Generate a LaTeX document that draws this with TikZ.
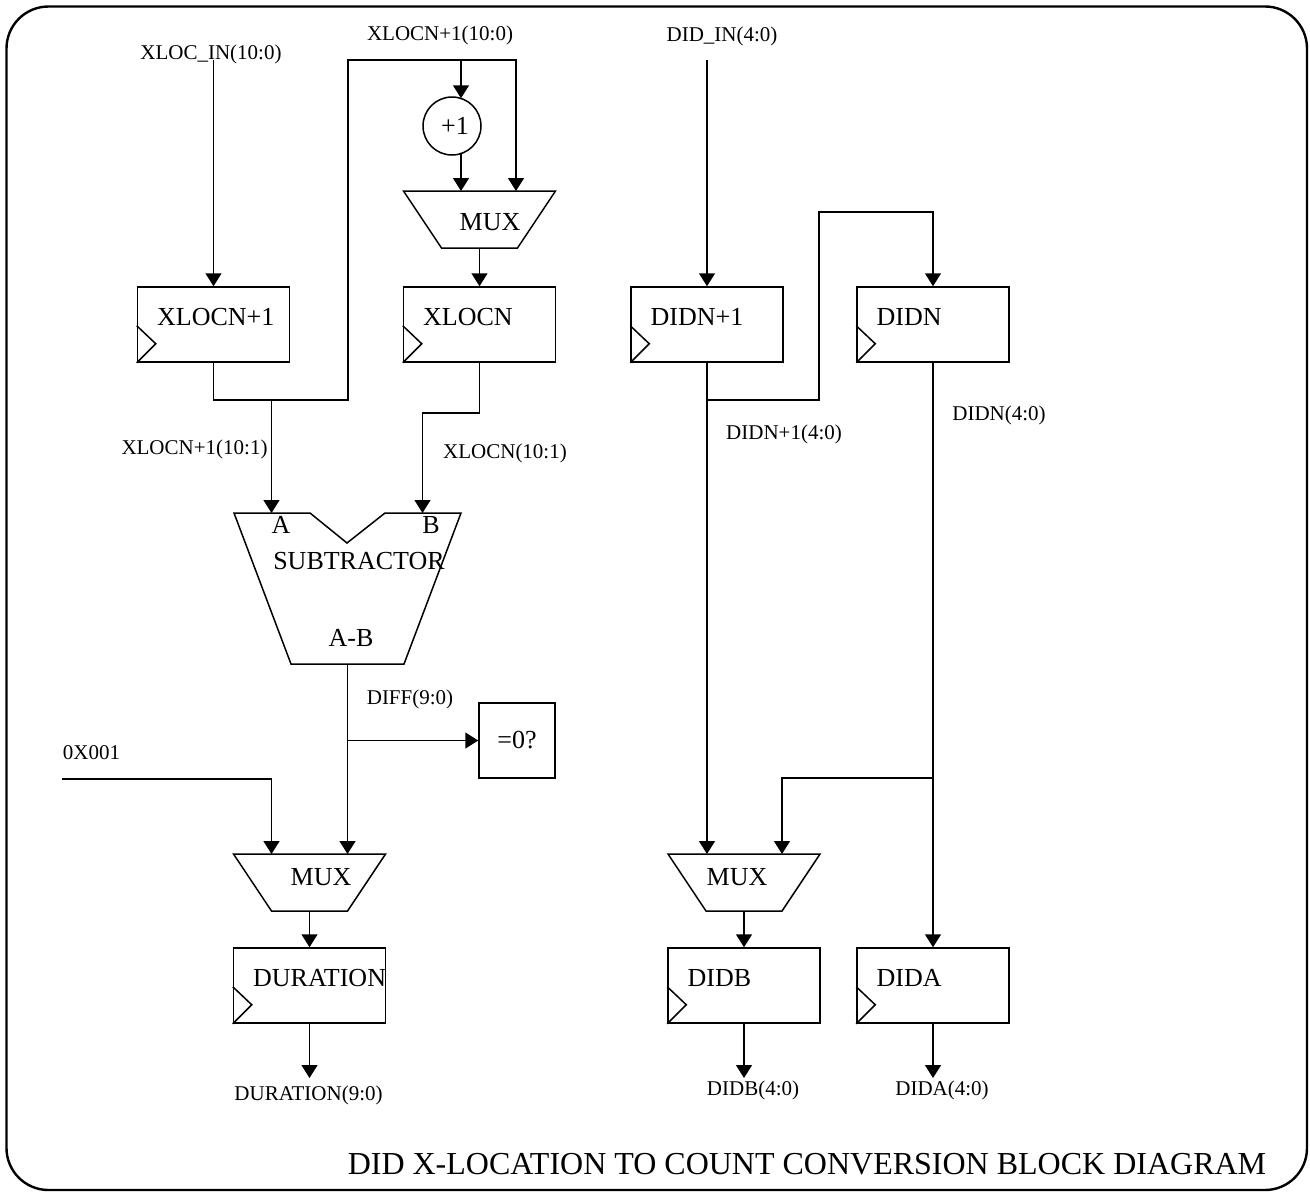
\documentclass[tikz,border=0pt]{standalone}
\usepackage{fontspec}
\setmainfont{Liberation Serif}
\usetikzlibrary{arrows.meta}

\tikzset{
	wire/.style={line width=0.75pt},
	sig/.style={wire, -{Triangle[length=6.5pt, width=8pt]}},
	regbox/.style={draw, wire, minimum width=76pt, minimum height=37.5pt, inner sep=0pt},
	big/.style={font=\fontsize{13}{15}\selectfont, inner sep=0pt},
	lab/.style={font=\fontsize{10.5}{12}\selectfont, inner sep=0pt, anchor=base},
}

% register with clock input: name, centre, text
\newcommand\flop[3]{%
	\node[regbox] (#1) at (#2) {};
	\node[big, anchor=base west] at ([shift={(20,39)}]#1.north west) {#3};
	\draw[wire] ([shift={(0,-37)}]#1.south west) -- ++(19,18) -- (#1.south west);
}

% multiplexer: name, top centre, text centre
\newcommand\muxer[3]{%
	\coordinate (#1) at (#2);
	\coordinate (#1-a) at ([shift={(-38,0)}]#1);
	\coordinate (#1-b) at ([shift={(38,0)}]#1);
	\coordinate (#1-out) at ([shift={(0,57)}]#1);
	\draw[wire] ([shift={(-76,0)}]#1) -- ++(152,0) -- ++(-38,57) -- ++(-76,0) -- cycle;
	\node[big] (#1-t) at (#3) {MUX};
}

\begin{document}
\begin{tikzpicture}[x=0.5pt, y=-0.5pt]
	\useasboundingbox (0,0) rectangle (1310,1194);
	\draw[line width=1.2pt, rounded corners=21pt] (6.5,6.5) rectangle (1307,1190);

	% X location
	\flop{xlocn1}{213.5,324.5}{XLOCN+1}
	\flop{xlocn}{479.5,324.5}{XLOCN}
	\node[draw, circle, wire, big, minimum size=29pt] (inc) at (452,126) {\hspace{3pt}+1};
	\muxer{muxx}{479.5,191}{490,222}

	\node[lab] (xinlab) at (211,59) {XLOC\_IN(10:0)};
	\node[lab] (xnextlab) at (440,40) {XLOCN+1(10:0)};
	\node[lab] (xn1lab) at (194.5,454) {XLOCN+1(10:1)};
	\node[lab] (xnlab) at (505,458) {XLOCN(10:1)};

	\coordinate (xsrc) at (213.5,60);
	\coordinate (xtap) at (271.5,400);
	\coordinate (xturn) at (348,60);
	\coordinate (xright) at (516,60);
	\coordinate (xinc) at (461,60);

	\draw[sig] (xsrc) -- (xlocn1);
	\draw[sig] (xlocn1.south) |- (xtap) -| (xturn) -- (xright) -- (xright |- muxx);
	\draw[sig] (xinc) -- ([yshift=-1pt]xinc |- inc.north);
	\draw[sig] ([yshift=1pt]xinc |- inc.south) -- (xinc |- muxx);
	\draw[sig] (muxx-out) -- (xlocn);

	% Subtractor
	\coordinate (sub-a) at (271.5,513);
	\coordinate (sub-b) at (422.5,513);
	\coordinate (sub-out) at (347.5,664);
	\draw[wire] (234,513) -- (310,513) -- (347,543) -- (385,513) -- (461,513) -- (404,664) -- (291,664) -- cycle;
	\node[big] (sub-ta) at (281,525) {A};
	\node[big] (sub-tb) at (431,525) {B};
	\node[big] (sub-t) at (359,561) {SUBTRACTOR};
	\node[big] (sub-tab) at (351,638) {A-B};

	\draw[sig] (xtap) -- (sub-a);
	\draw[sig] (xlocn.south) -- ++(0,50) -| (sub-b);

	% Duration
	\muxer{muxd}{309.5,854}{321,877}
	\flop{duration}{309.5,985.5}{DURATION}
	\node[draw, wire, big, minimum width=38pt, minimum height=37.5pt] (zero) at (517,740.5) {=0?};
	\node[lab] (difflab) at (410,704) {DIFF(9:0)};
	\node[lab] (cstlab) at (91.5,759) {0X001};
	\node[lab] (durlab) at (308.5,1100) {DURATION(9:0)};

	\coordinate (cst) at (62,779);
	\coordinate (durout) at (309.5,1078);

	\draw[sig] (sub-out) -- (sub-out |- muxd);
	\draw[sig] (sub-out |- zero) -- (zero);
	\draw[sig] (cst) -| (muxd-a);
	\draw[sig] (muxd-out) -- (duration);
	\draw[sig] (duration) -- (durout);

	% DID
	\flop{didn1}{707,324.5}{DIDN+1}
	\flop{didn}{933,324.5}{DIDN}
	\muxer{muxb}{744,854}{737,877}
	\flop{didb}{744,985.5}{DIDB}
	\flop{dida}{933,985.5}{DIDA}

	\node[lab] (didinlab) at (722,41) {DID\_IN(4:0)};
	\node[lab] (didn1lab) at (784,439) {DIDN+1(4:0)};
	\node[lab] (didnlab) at (999,420) {DIDN(4:0)};
	\node[lab] (didblab) at (753,1095) {DIDB(4:0)};
	\node[lab] (didalab) at (942,1095) {DIDA(4:0)};

	\coordinate (dsrc) at (707,60);
	\coordinate (dtap) at (707,400);
	\coordinate (dturn) at (819,212);
	\coordinate (dntap) at (933,778);
	\coordinate (didbout) at (744,1078);
	\coordinate (didaout) at (933,1078);

	\draw[sig] (dsrc) -- (didn1);
	\draw[sig] (dtap) -| (dturn) -| (didn);
	\draw[sig] (didn1) -- (didn1 |- muxb);
	\draw[sig] (didn) -- (dida);
	\draw[sig] (dntap) -| (muxb-b);
	\draw[sig] (muxb-out) -- (didb);
	\draw[sig] (didb) -- (didbout);
	\draw[sig] (dida) -- (didaout);

	% Title
	\node[font=\fontsize{16}{19}\selectfont, anchor=base, inner sep=0pt] (title) at (807,1174) {DID X-LOCATION TO COUNT CONVERSION BLOCK DIAGRAM};
\end{tikzpicture}
\end{document}
